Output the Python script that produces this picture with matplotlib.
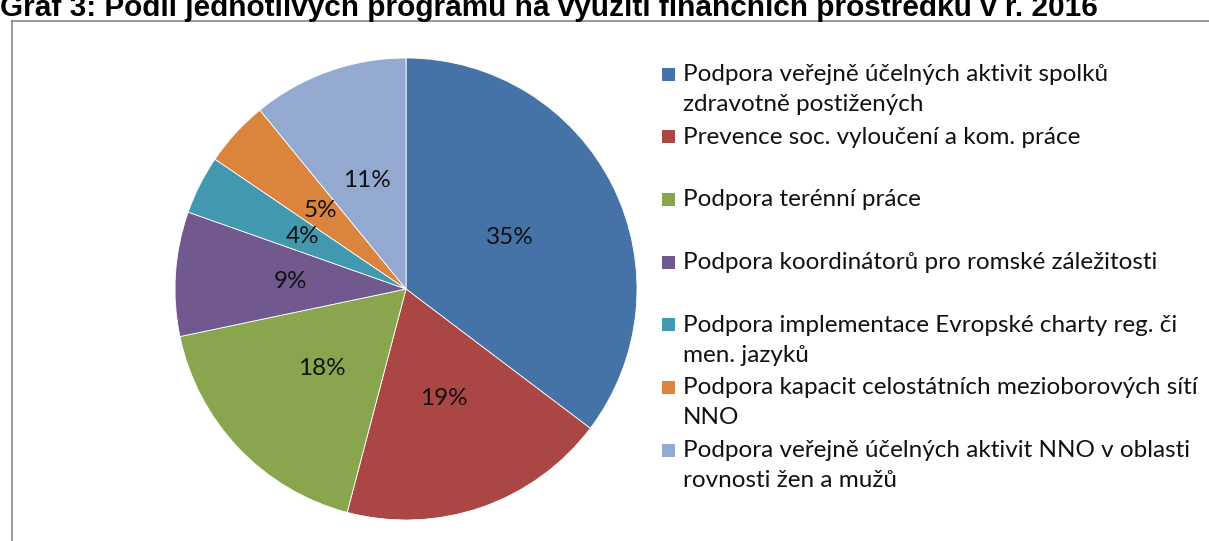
import matplotlib
matplotlib.use("Agg")
import matplotlib.pyplot as plt
from matplotlib.lines import Line2D
from matplotlib.patches import Rectangle

# shares (percent)
programs = [
    "Podpora veřejně účelných aktivit spolků\nzdravotně postižených",
    "Prevence soc. vyloučení a kom. práce",
    "Podpora terénní práce",
    "Podpora koordinátorů pro romské záležitosti",
    "Podpora implementace Evropské charty reg. či\nmen. jazyků",
    "Podpora kapacit celostátních mezioborových sítí\nNNO",
    "Podpora veřejně účelných aktivit NNO v oblasti\nrovnosti žen a mužů",
]
shares = [35.3, 18.8, 17.6, 8.7, 4.1, 4.6, 10.9]
colors = ["#4572A7", "#AA4643", "#89A54E", "#71588F", "#4198AF", "#DB843D", "#93A9CF"]
title = "Graf 3: Podíl jednotlivých programů na využití finančních prostředků v r. 2016"

W, H = 1209, 541
fig = plt.figure(figsize=(W / 100, H / 100), dpi=100)
fig.patch.set_facecolor("white")

# chart frame (partly outside the crop)
fig.add_artist(Line2D([12 / W, 12 / W], [0, 1 - 21 / H], color="#868686", lw=1.2))
fig.add_artist(Line2D([12 / W, 1], [1 - 21 / H, 1 - 21 / H], color="#868686", lw=1.2))

# title, cut off at the top edge like in the source screenshot
fig.text(0.0, 1 - 16 / H, title, fontsize=21.4, fontweight="bold",
         family="Liberation Sans", va="baseline", ha="left")

cx, cy, r = 406, 289, 231
ax = fig.add_axes([(cx - r) / W, (H - cy - r) / H, 2 * r / W, 2 * r / H])
wedges, texts, autotexts = ax.pie(
    shares, colors=colors, startangle=90, counterclock=False,
    autopct="%.0f%%", pctdistance=0.5,
    wedgeprops=dict(edgecolor="white", linewidth=0.6),
    textprops=dict(fontsize=17.5, family="Lato", color="#111111"),
)
ax.set_xlim(-1, 1)
ax.set_ylim(-1, 1)
ax.set_aspect("equal")
ax.axis("off")

# legend drawn by hand: one slot per entry, text lines from the slot top
x_box, x_txt, y0, step, lh = 662, 683, 74, 62.7, 30
for i, (lab, col) in enumerate(zip(programs, colors)):
    y = y0 + i * step
    fig.add_artist(Rectangle((x_box / W, 1 - (y + 6.5) / H), 13 / W, 13 / H,
                             facecolor=col, edgecolor="none"))
    for j, line in enumerate(lab.split("\n")):
        fig.text(x_txt / W, 1 - (y + 7 + j * lh) / H, line, fontsize=17.5,
                 family="Lato", color="#111111", va="baseline", ha="left")

fig.savefig("out.png", dpi=100)
